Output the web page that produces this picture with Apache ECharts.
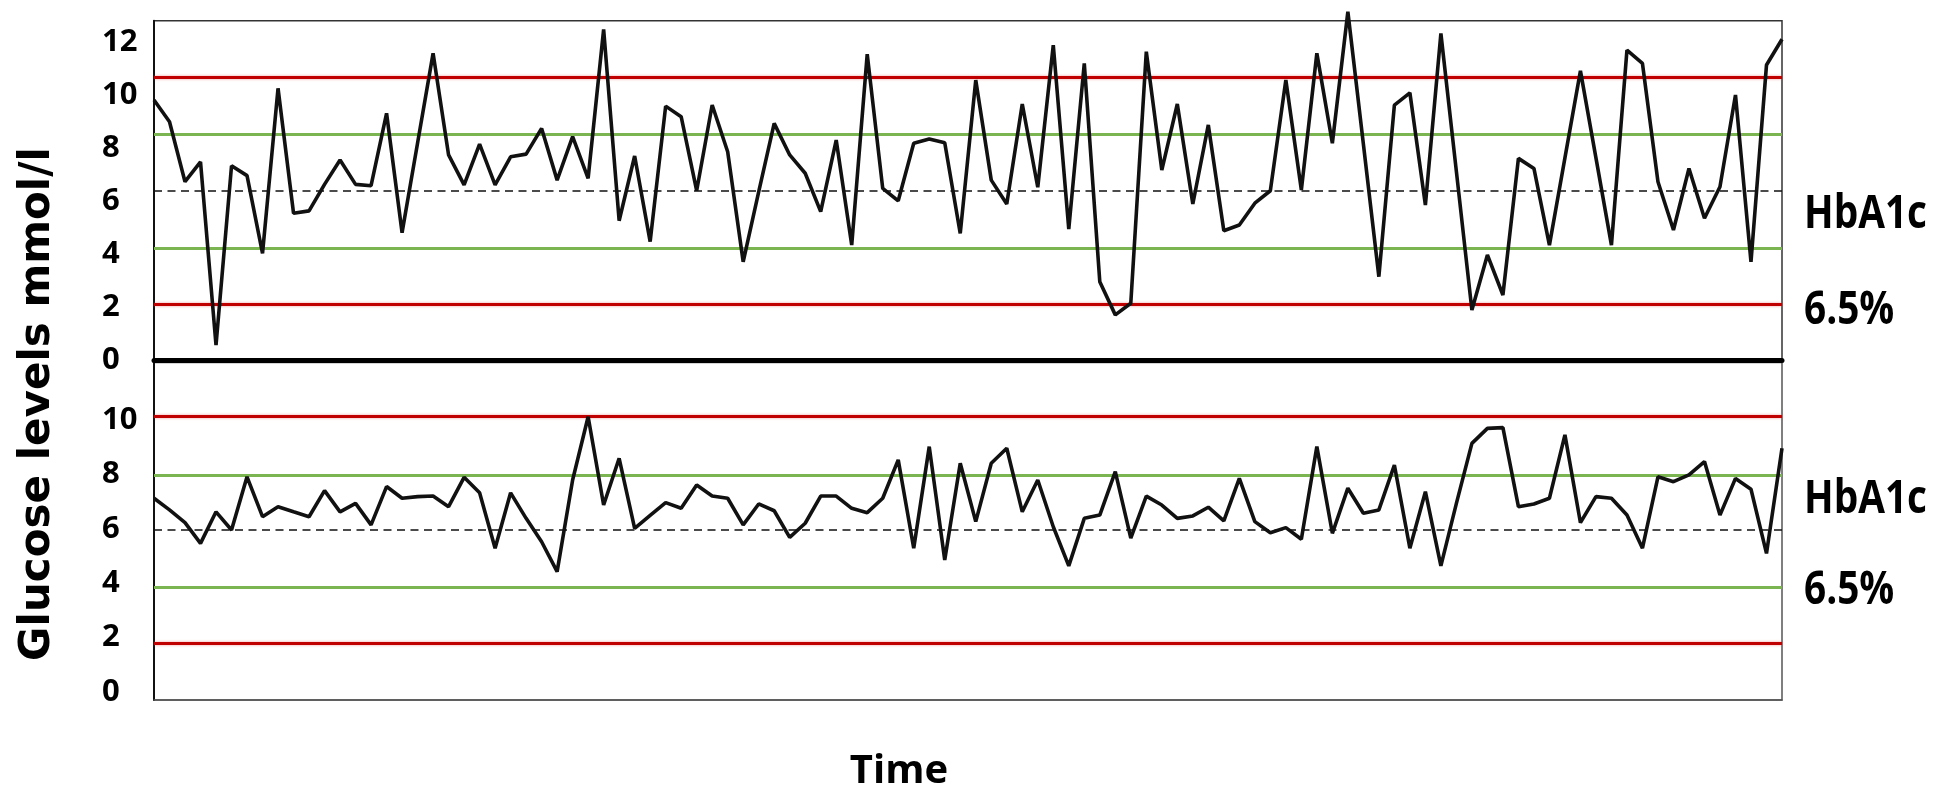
<!DOCTYPE html>
<html>
<head>
<meta charset="utf-8">
<title>Glucose levels</title>
<script src="https://cdn.jsdelivr.net/npm/echarts@6/dist/echarts.min.js"></script>
<style>
  html, body { margin: 0; padding: 0; background: #fff; }
  #chart { width: 1939px; height: 799px; }
</style>
</head>
<body>
<div id="chart"></div>
<script>
// glucose readings, mmol/l
const topGlucose = [
  9.82, 9.00, 6.74, 7.49, 0.58, 7.34, 6.97, 4.04, 10.26, 5.55,
  5.64, 6.64, 7.56, 6.64, 6.59, 9.32, 4.82, 8.20, 11.58, 7.75,
  6.62, 8.16, 6.62, 7.68, 7.78, 8.75, 6.80, 8.44, 6.87, 12.48,
  5.27, 7.71, 4.48, 9.59, 9.19, 6.40, 9.63, 7.87, 3.72, 6.36,
  8.94, 7.75, 7.06, 5.61, 8.31, 4.35, 11.55, 6.49, 6.02, 8.19,
  8.35, 8.21, 4.79, 10.57, 6.80, 5.90, 9.67, 6.53, 11.89, 4.95,
  11.20, 2.97, 1.72, 2.16, 11.64, 7.18, 9.67, 5.90, 8.88, 4.89,
  5.11, 5.93, 6.40, 10.57, 6.43, 11.58, 8.19, 13.15, 8.16, 3.16,
  9.63, 10.09, 5.86, 12.33, 7.12, 1.90, 3.98, 2.47, 7.62, 7.24,
  4.35, 7.64, 10.92, 7.64, 4.35, 11.70, 11.20, 6.74, 4.92, 7.24,
  5.36, 6.55, 10.01, 3.72, 11.14, 12.11
]
const bottomGlucose = [
  7.12, 6.69, 6.22, 5.46, 6.62, 5.95, 7.91, 6.44, 6.81, 6.62,
  6.44, 7.40, 6.62, 6.93, 6.14, 7.55, 7.12, 7.18, 7.20, 6.81,
  7.89, 7.32, 5.28, 7.32, 6.38, 5.52, 4.42, 7.79, 10.12, 6.87,
  8.59, 6.01, 6.49, 6.96, 6.75, 7.61, 7.20, 7.12, 6.14, 6.91,
  6.66, 5.68, 6.20, 7.20, 7.20, 6.75, 6.59, 7.12, 8.53, 5.28,
  9.02, 4.85, 8.41, 6.26, 8.41, 8.96, 6.62, 7.79, 6.07, 4.63,
  6.38, 6.50, 8.10, 5.65, 7.20, 6.87, 6.38, 6.47, 6.79, 6.29,
  7.85, 6.26, 5.85, 6.04, 5.61, 9.02, 5.83, 7.49, 6.57, 6.69,
  8.34, 5.28, 7.36, 4.63, 6.93, 9.14, 9.69, 9.72, 6.81, 6.91,
  7.12, 9.45, 6.22, 7.18, 7.12, 6.50, 5.28, 7.91, 7.73, 7.98,
  8.47, 6.50, 7.85, 7.45, 5.09, 8.96
]
const timePoints = topGlucose.map((_, i) => i + 1)

const topTicks = [0, 2, 4, 6, 8, 10, 12]
const bottomTicks = [0, 2, 4, 6, 8, 10]

// target band lines as drawn in each panel
const topRed = [10.66, 2.13]
const topGreen = [8.54, 4.23]
const topHbA1c = 6.39
const bottomRed = [10.15, 1.78]
const bottomGreen = [7.98, 3.84]
const bottomHbA1c = 5.95

const LEFT = 154
const RIGHT = 157
const labelFont = '"Open Sans", "Noto Sans", sans-serif'
const sideFont = 'bold 46px ' + labelFont

// the side notes are set in a narrow face, squeeze the bold sans to the same width
const measureCtx = document.createElement('canvas').getContext('2d')
measureCtx.font = sideFont
const sideSqueeze = 123 / measureCtx.measureText('HbA1c').width

function guideLines(red, green, dashed) {
  const lines = []
  red.forEach(v => lines.push({
    yAxis: v,
    lineStyle: { color: '#c00000', width: 3, type: 'solid', shadowColor: 'rgba(235,90,90,0.6)', shadowBlur: 3 }
  }))
  green.forEach(v => lines.push({
    yAxis: v,
    lineStyle: { color: '#7ab552', width: 3, type: 'solid' }
  }))
  lines.push({
    yAxis: dashed,
    lineStyle: { color: '#111', width: 1.5, type: [8, 5.5] }
  })
  return lines
}

function yAxisFor(gridIndex, min, max, ticks) {
  return {
    gridIndex: gridIndex,
    type: 'value',
    min: min,
    max: max,
    axisLine: { show: true, lineStyle: { color: '#111', width: 2 } },
    axisTick: { show: false },
    splitLine: { show: false },
    axisLabel: {
      customValues: ticks,
      align: 'left',
      margin: 52,
      color: '#000',
      fontSize: 31,
      fontWeight: 'bold',
      fontFamily: labelFont
    }
  }
}

function xAxisFor(gridIndex, lineColor, lineWidth) {
  return {
    gridIndex: gridIndex,
    type: 'category',
    boundaryGap: false,
    data: timePoints,
    axisLine: { show: true, onZero: false, lineStyle: { color: lineColor, width: lineWidth } },
    axisTick: { show: false },
    axisLabel: { show: false },
    splitLine: { show: false }
  }
}

function glucoseSeries(index, data, lines) {
  return {
    type: 'line',
    xAxisIndex: index,
    yAxisIndex: index,
    data: data,
    symbol: 'none',
    clip: false,
    z: 3,
    lineStyle: { color: '#111', width: 3.6 },
    markLine: {
      silent: true,
      z: 1,
      symbol: ['none', 'none'],
      label: { show: false },
      data: lines
    }
  }
}

function sideNote(text, y) {
  return {
    type: 'text', x: 1804, y: y, scaleX: sideSqueeze,
    style: { text: text, font: sideFont, fill: '#000', align: 'left', verticalAlign: 'middle' }
  }
}

const chart = echarts.init(document.getElementById('chart'))

chart.setOption({
  animation: false,
  backgroundColor: '#fff',
  grid: [
    { left: LEFT, right: RIGHT, top: 20.7, height: 339.8, show: true, borderColor: '#333', borderWidth: 1.5 },
    { left: LEFT, right: RIGHT, top: 362.5, height: 337.5, show: true, borderColor: '#555', borderWidth: 1.5 }
  ],
  xAxis: [
    xAxisFor(0, '#000', 5),
    xAxisFor(1, '#555', 1.5)
  ],
  yAxis: [
    yAxisFor(0, 0, 12.81, topTicks),
    yAxisFor(1, -0.3055, 12.116, bottomTicks)
  ],
  series: [
    glucoseSeries(0, topGlucose, guideLines(topRed, topGreen, topHbA1c)),
    glucoseSeries(1, bottomGlucose, guideLines(bottomRed, bottomGreen, bottomHbA1c))
  ],
  graphic: [
    {
      type: 'text', x: 38, y: 404, rotation: Math.PI / 2,
      style: { text: 'Glucose levels mmol/l', font: 'bold 42px "DejaVu Sans"', fill: '#000', align: 'center', verticalAlign: 'middle' }
    },
    {
      type: 'text', x: 899, y: 772,
      style: { text: 'Time', font: 'bold 40px "Open Sans"', fill: '#000', align: 'center', verticalAlign: 'middle' }
    },
    sideNote('HbA1c', 215),
    sideNote('6.5%', 311),
    sideNote('HbA1c', 500),
    sideNote('6.5%', 591)
  ]
})
</script>
</body>
</html>
